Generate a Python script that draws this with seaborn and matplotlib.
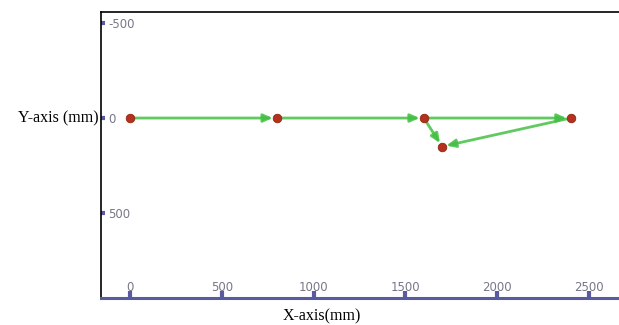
import matplotlib
matplotlib.use("Agg")
import matplotlib.pyplot as plt
import seaborn as sns
import pandas as pd

# Data
node_x = [0, 800, 1600, 2400, 1700]
node_y = [0, 0, 0, 0, 150]
edge_from = [0, 1, 2, 3, 2]
edge_to = [1, 2, 3, 4, 4]
x_ticks = [0, 500, 1000, 1500, 2000, 2500]
y_ticks = [-500, 0, 500]
x_label = "X-axis(mm)"
y_label = "Y-axis (mm)"

sns.set_theme(style="white")
plt.rcParams['font.family'] = ['DejaVu Sans']

W, H = 619, 325
fig = plt.figure(figsize=(W / 100, H / 100), dpi=100)
ax = fig.add_axes([101 / W, (H - 298) / H, (619 - 101) / W, (298 - 12) / H])

green = "#44c044"
for a, b in zip(edge_from, edge_to):
    ax.annotate("", xy=(node_x[b], node_y[b]), xytext=(node_x[a], node_y[a]),
                arrowprops=dict(arrowstyle="-|>,head_length=0.45,head_width=0.2",
                                color=green, lw=2, alpha=0.85,
                                shrinkA=3, shrinkB=3), zorder=2)

df = pd.DataFrame({"x": node_x, "y": node_y})
sns.scatterplot(data=df, x="x", y="y", ax=ax, color="#b5301f", s=38,
                edgecolor="#8a2a10", linewidth=0.6, zorder=3, legend=False)

ax.set_xlim(-158, 2663)
ax.set_ylim(947, -558)

purple = "#5a5aa0"
ax.set_xticks(x_ticks)
ax.set_xticklabels([str(v) for v in x_ticks])
ax.set_yticks(y_ticks)
ax.set_yticklabels([str(v) for v in y_ticks])

ax.tick_params(axis="x", bottom=True, direction="in", length=5, width=3, color=purple,
               pad=-3, labelsize=8.5, labelcolor="#777788")
ax.tick_params(axis="y", left=True, direction="in", length=3, width=3, color=purple,
               pad=-5, labelsize=8.5, labelcolor="#777788")
for lab in ax.get_yticklabels():
    lab.set_ha("left")
for lab in ax.get_xticklabels():
    lab.set_va("bottom")

for s in ["left", "top"]:
    ax.spines[s].set_color("black")
    ax.spines[s].set_linewidth(1.2)
ax.spines["right"].set_visible(False)
ax.spines["bottom"].set_color(purple)
ax.spines["bottom"].set_linewidth(2.2)

ax.set_xlabel("")
ax.set_ylabel("")
fig.text(58 / W, 1 - 118 / H, y_label, ha="center", va="center",
         family="Liberation Serif", fontsize=11.5, color="black")
fig.text(322 / W, 1 - 316 / H, x_label, ha="center", va="center",
         family="Liberation Serif", fontsize=11.5, color="black")

fig.savefig("out.png", dpi=100)
